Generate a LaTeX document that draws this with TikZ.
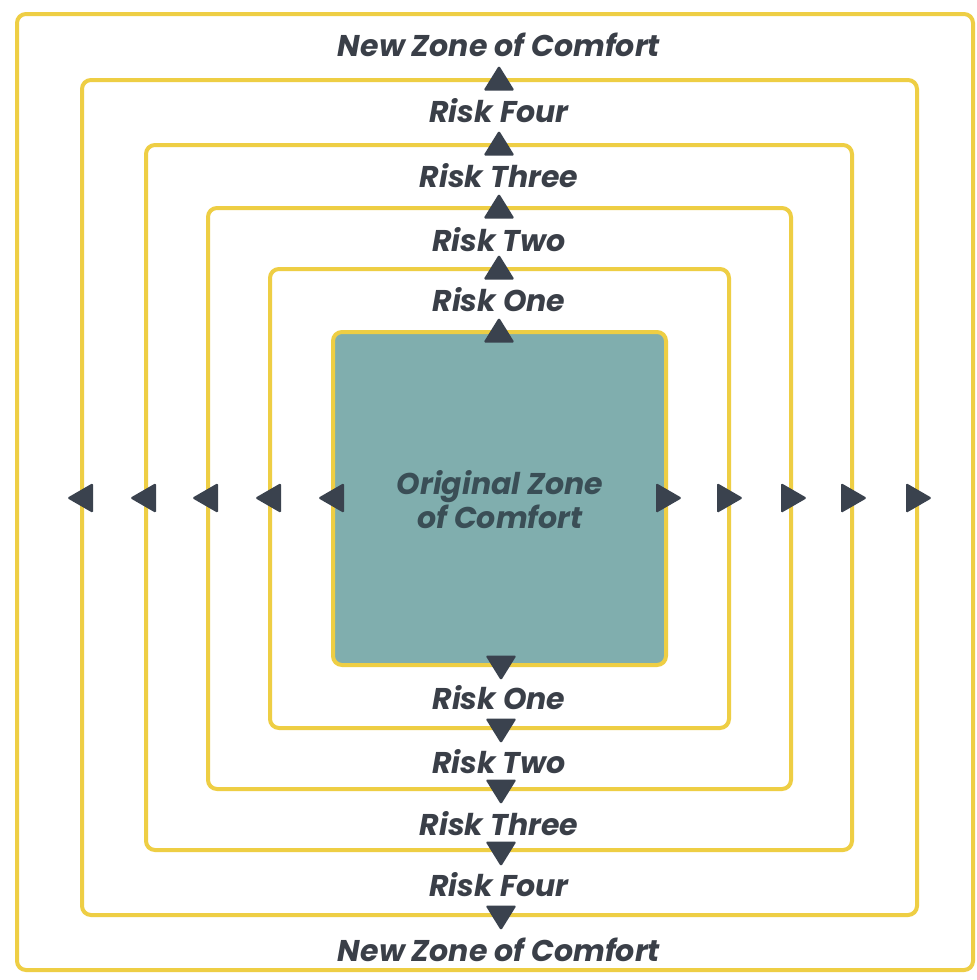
\documentclass[tikz,border=0pt]{standalone}
\usepackage{fontspec}
\setmainfont{Poppins}
\begin{document}
\begin{tikzpicture}[x=1pt,y=-1pt,
  zone/.style={draw=zoneyellow,line width=4pt,rounded corners=9pt},
  core/.style={draw=zoneyellow,line width=4pt,fill=coreteal,rounded corners=9pt},
  lbl/.style={font=\fontsize{30}{34}\selectfont\bfseries\itshape,text=labelgray,inner sep=0pt,anchor=base},
  corelbl/.style={font=\fontsize{30}{34}\selectfont\bfseries\itshape,text=coretext,align=center,inner sep=0pt},
  tri/.style={fill=arrowgray,rounded corners=1.5pt},
  uptri/.pic={\fill[tri] (-15.5,12.5) -- (15.5,12.5) -- (0,-12.5) -- cycle;},
  downtri/.pic={\fill[tri] (-15.5,-12.5) -- (15.5,-12.5) -- (0,12.5) -- cycle;},
  lefttri/.pic={\fill[tri] (13,-15) -- (13,15) -- (-13,0) -- cycle;},
  righttri/.pic={\fill[tri] (-13,-15) -- (-13,15) -- (13,0) -- cycle;}
]
\definecolor{zoneyellow}{RGB}{238,206,68}
\definecolor{coreteal}{RGB}{128,174,174}
\definecolor{labelgray}{RGB}{58,63,72}
\definecolor{coretext}{RGB}{58,78,86}
\definecolor{arrowgray}{RGB}{58,66,78}
\useasboundingbox (0,0) rectangle (977,980);
\fill[white] (0,0) rectangle (977,980);
% zone boxes
\draw[zone] (17,14) rectangle (973,970);
\draw[zone] (82,80) rectangle (917,915);
\draw[zone] (146,145) rectangle (852,850);
\draw[zone] (208,208) rectangle (791,789);
\draw[zone] (270,269) rectangle (729,728);
\draw[core] (333,332) rectangle (666,665);
% core label
\node[corelbl] (core) at (500,500) {Original Zone\\of Comfort};
% top labels
\node[lbl] (tNew) at (499,56) {New Zone of Comfort};
\node[lbl] (tFour) at (499,122) {Risk Four};
\node[lbl] (tThree) at (499,187) {Risk Three};
\node[lbl] (tTwo) at (499,251) {Risk Two};
\node[lbl] (tOne) at (499,311) {Risk One};
% bottom labels
\node[lbl] (bOne) at (499,709) {Risk One};
\node[lbl] (bTwo) at (499,773) {Risk Two};
\node[lbl] (bThree) at (499,835) {Risk Three};
\node[lbl] (bFour) at (499,896) {Risk Four};
\node[lbl] (bNew) at (499,961) {New Zone of Comfort};
% up arrows
\foreach \y in {78,143,206,267,330} \pic at (499,\y) {uptri};
% down arrows
\foreach \y in {668,731,792,854,918} \pic at (501,\y) {downtri};
% left arrows
\foreach \x in {80,143,205,268,331} \pic at (\x,498) {lefttri};
% right arrows
\foreach \x in {669,730,794,854,919} \pic at (\x,498) {righttri};
\end{tikzpicture}
\end{document}
